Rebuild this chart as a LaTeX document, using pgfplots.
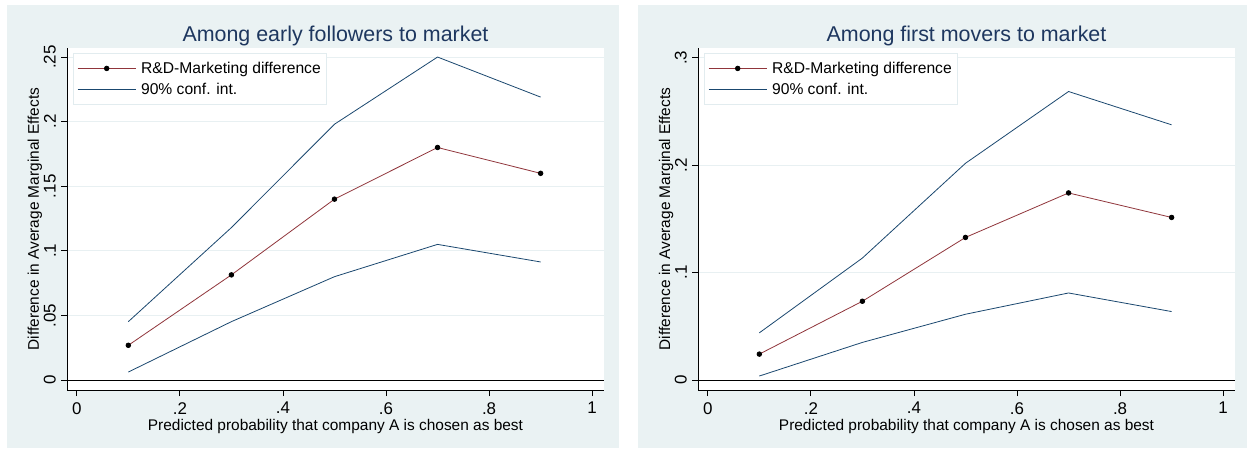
\documentclass[border=0pt]{standalone}
\usepackage{fontspec}
\setmainfont{Liberation Sans}
\usepackage{pgfplots}
\pgfplotsset{compat=1.18}
\definecolor{bgc}{RGB}{234,242,243}
\definecolor{gridc}{RGB}{232,240,242}
\definecolor{legbord}{RGB}{226,236,239}
\definecolor{stnavy}{RGB}{26,71,111}
\definecolor{sttitle}{RGB}{30,55,95}
\definecolor{stmaroon}{RGB}{144,53,59}

\pgfplotstableread{
x     est     lo      hi
0.1   0.0269  0.0062  0.0452
0.3   0.0814  0.0452  0.1180
0.5   0.1400  0.0800  0.1980
0.7   0.1800  0.1050  0.2500
0.9   0.1600  0.0914  0.2190
}\earlyfollowers

\pgfplotstableread{
x     est     lo      hi
0.1   0.0241  0.0037  0.0439
0.3   0.0733  0.0350  0.1135
0.5   0.1327  0.0612  0.2017
0.7   0.1741  0.0810  0.2685
0.9   0.1513  0.0637  0.2375
}\firstmovers

\pgfplotsset{
  panel/.style={
    scale only axis, width=537bp, height=342bp,
    axis x line*=bottom, axis y line*=left,
    axis line style={black, line width=0.8bp},
    axis background/.style={fill=white},
    xmin=-0.019, xmax=1.023,
    xtick={0,0.2,0.4,0.6,0.8,1}, xticklabels={0,.2,.4,.6,.8,1},
    tick align=outside, major tick length=6bp,
    tick style={black, line width=0.8bp},
    ymajorgrids, grid style={gridc, line width=0.8bp},
    ticklabel style={font=\fontsize{17}{17}\selectfont},
    yticklabel style={rotate=90, anchor=south, inner sep=0pt, yshift=5bp},
    xticklabel style={anchor=north, inner sep=0pt, yshift=-6bp},
    xlabel={Predicted probability that company A is chosen as best},
    ylabel={Difference in Average Marginal Effects},
    label style={font=\fontsize{15.5}{16}\selectfont},
    xlabel style={at={(axis description cs:0.5,0)}, anchor=base, yshift=-40bp},
    ylabel style={at={(axis description cs:0,0.5)}, anchor=center, yshift=32bp},
    title style={font=\fontsize{21.5}{22}\selectfont, color=sttitle, at={(axis description cs:0.5,1)}, anchor=base, yshift=1bp},
    legend style={at={(0.011,0.985)}, anchor=north west, draw=legbord, fill=white,
      line width=0.8bp, font=\fontsize{15.7}{16}\selectfont, inner xsep=4bp, inner ysep=6.5bp,
      row sep=4bp},
    legend cell align=left,
    legend image code/.code={\draw[mark repeat=2,mark phase=2,#1] plot coordinates {(0bp,0bp) (29bp,0bp) (58bp,0bp)};},
  },
  ci/.style={stnavy, line width=0.8bp, mark=none},
  est/.style={stmaroon, line width=0.8bp, mark=*, mark size=2.3bp, mark options={black, fill=black}},
}

\begin{document}
\begin{tikzpicture}
\path[use as bounding box] (0bp,0bp) rectangle (1247bp,449bp);
\fill[bgc] (7bp,1bp) rectangle (619bp,444bp);
\fill[bgc] (638bp,1bp) rectangle (1247bp,444bp);

\begin{axis}[panel, at={(67bp,59bp)}, anchor=south west,
  ymin=-0.0077, ymax=0.257,
  ytick={0,0.05,0.1,0.15,0.2,0.25}, yticklabels={0,.05,.1,.15,.2,.25},
  title={Among early followers to market}]
\draw[black, line width=0.8bp] (axis cs:-0.019,0) -- (axis cs:1.023,0);
\addplot[est] table[x=x, y=est] {\earlyfollowers};
\addlegendentry{\hspace{3bp}R\&D-Marketing difference}
\addplot[ci] table[x=x, y=hi] {\earlyfollowers};
\addlegendentry{\hspace{3bp}90\% conf. int.}
\addplot[ci, forget plot] table[x=x, y=lo] {\earlyfollowers};
\end{axis}

\begin{axis}[panel, at={(698bp,59bp)}, anchor=south west,
  ymin=-0.0093, ymax=0.309,
  ytick={0,0.1,0.2,0.3}, yticklabels={0,.1,.2,.3},
  title={Among first movers to market}]
\draw[black, line width=0.8bp] (axis cs:-0.019,0) -- (axis cs:1.023,0);
\addplot[est] table[x=x, y=est] {\firstmovers};
\addlegendentry{\hspace{3bp}R\&D-Marketing difference}
\addplot[ci] table[x=x, y=hi] {\firstmovers};
\addlegendentry{\hspace{3bp}90\% conf. int.}
\addplot[ci, forget plot] table[x=x, y=lo] {\firstmovers};
\end{axis}
\end{tikzpicture}
\end{document}
